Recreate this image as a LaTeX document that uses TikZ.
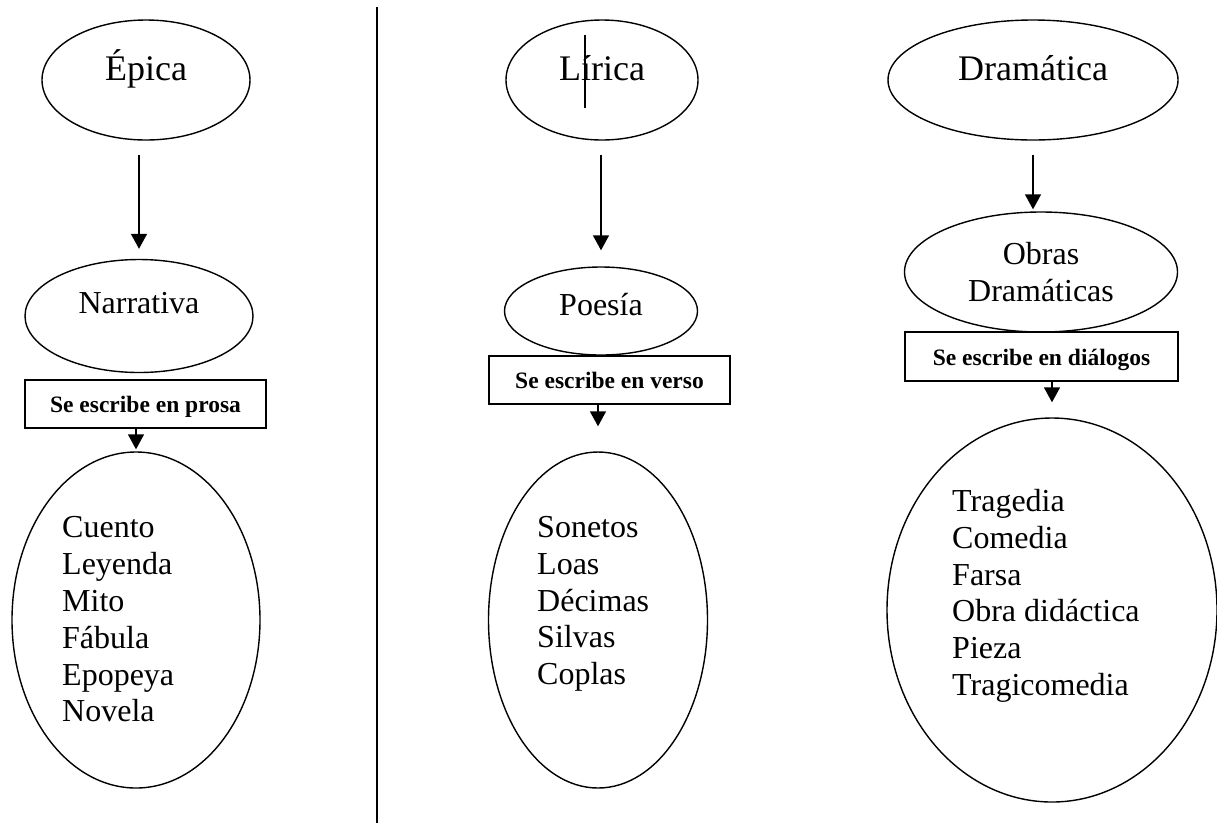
\documentclass[tikz,border=0pt]{standalone}
\usepackage{fontspec}
\setmainfont{Liberation Serif}
\usetikzlibrary{arrows.meta,positioning,shapes.geometric}

\tikzset{
  oval/.style={ellipse,draw,line width=1.4pt,inner sep=0pt,font=\fontsize{32}{37}\selectfont},
  titulo/.style={oval,font=\fontsize{36}{41}\selectfont,text height=24pt,text depth=24pt,minimum height=120pt},
  caja/.style={draw,line width=1.4pt,inner sep=0pt,minimum height=48pt,
    font=\bfseries\fontsize{23.5}{27}\selectfont,text height=17pt,text depth=0pt},
  lista/.style={align=left,inner sep=0pt,anchor=north west,font=\fontsize{32}{36.8}\selectfont},
  flecha/.style={-{Triangle[length=15pt,width=16pt]},line width=1.5pt},
}

\begin{document}
\begin{tikzpicture}[x=1pt,y=-1pt]
\useasboundingbox (0,0) rectangle (1217,823);
% divider
\draw[line width=2pt] (377,7) -- (377,823);
% genre heads
\node[titulo,minimum width=208pt] (epica) at (146,80) {Épica};
\node[titulo,minimum width=192pt] (lirica) at (602,80) {Lírica};
\node[titulo,minimum width=290pt] (dramatica) at (1033,80) {Dramática};
\draw[line width=1.5pt] ([xshift=-17pt,yshift=45pt]lirica.center) -- ([xshift=-17pt,yshift=-28pt]lirica.center);
% kinds
\node[oval,minimum width=228pt,minimum height=113pt,text height=24pt,text depth=30pt] (narrativa) at (139,316) {Narrativa};
\node[oval,minimum width=193pt,minimum height=88pt,text height=24pt,text depth=16pt] (poesia) at (601,311) {Poesía};
\node[oval,minimum width=273pt,minimum height=120pt,align=center] (obras) at (1041,272) {Obras\\Dramáticas};
% how it is written
\node[caja,minimum width=241pt] (prosa) at (145.5,404) {Se escribe en prosa};
\node[caja,minimum width=241pt] (verso) at (609.5,380) {Se escribe en verso};
\node[caja,minimum width=273pt,minimum height=49pt] (dialogos) at (1041.5,356.5) {Se escribe en diálogos};
% forms
\node[oval,minimum width=248pt,minimum height=336pt] (formasEpica) at (136,620) {};
\node[oval,minimum width=219pt,minimum height=336pt] (formasLirica) at (598,620) {};
\node[oval,minimum width=330pt,minimum height=384pt] (formasDramatica) at (1052,610) {};
\node[lista] (listaEpica) at (62,516.5) {Cuento\\Leyenda\\Mito\\Fábula\\Epopeya\\Novela};
\node[lista] (listaLirica) at (537,516) {Sonetos\\Loas\\Décimas\\Silvas\\Coplas};
\node[lista] (listaDramatica) at (952,489) {Tragedia\\Comedia\\Farsa\\Obra didáctica\\Pieza\\Tragicomedia};
% arrows
\draw[flecha,shorten <=14pt,shorten >=10pt] (epica.south -| narrativa.north) -- (narrativa.north);
\draw[flecha,shorten <=14pt,shorten >=16pt] (lirica.south -| poesia.north) -- (poesia.north);
\draw[flecha,shorten <=14pt,shorten >=2pt] (dramatica.south) -- (dramatica.south |- obras.north);
\draw[flecha,shorten >=2pt] (prosa.south -| formasEpica.north) -- (formasEpica.north);
\draw[flecha,shorten >=25pt] (verso.south -| formasLirica.north) -- (formasLirica.north);
\draw[flecha,shorten >=15pt] (dialogos.south -| formasDramatica.north) -- (formasDramatica.north);
\end{tikzpicture}
\end{document}
